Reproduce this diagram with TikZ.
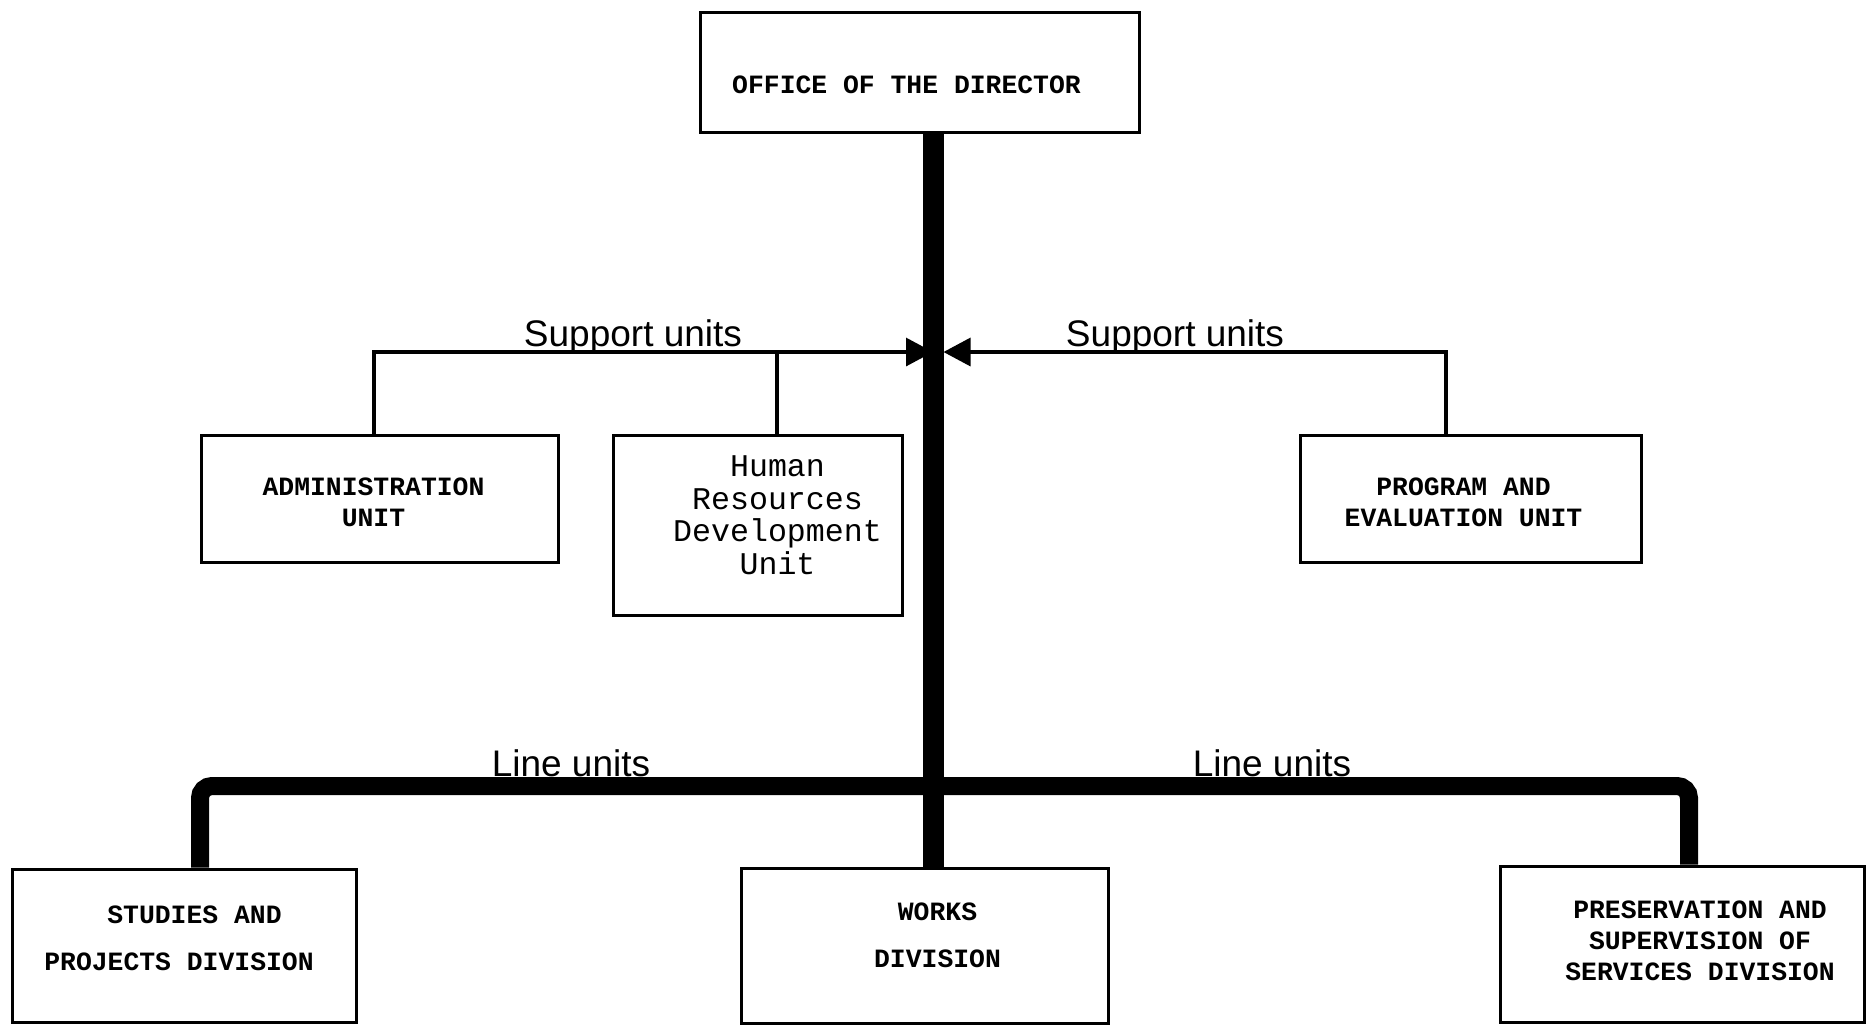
\documentclass[tikz,border=0pt]{standalone}
\usepackage{fontspec}
\setmainfont{Liberation Serif}
\newfontfamily\typefont{Liberation Mono}
\newfontfamily\handfont{Liberation Sans}
\usetikzlibrary{arrows.meta}
\newcommand{\boxtext}[3]{\raisebox{#2}[\height][\depth]{\hspace*{#1}\begin{tabular}{@{}c@{}}#3\end{tabular}\hspace*{-#1}}}
\tikzset{
    unitbox/.style = {draw = black,line width = 1.5pt,inner sep = 0pt,align = center},
    capstext/.style = {font = \typefont\bfseries\fontsize{13.2}{15.5}\selectfont},
    widetext/.style = {font = \typefont\bfseries\fontsize{13.2}{23.5}\selectfont},
    support/.style = {draw = black,line width = 1.6pt},
    supporttip/.style = {support,-{Triangle[length = 13.5pt,width = 14pt]}},
    lineunit/.style = {draw = black,line width = 9pt,rounded corners = 6pt},
    trunk/.style = {draw = black,line width = 10.5pt},
    hand/.style = {font = \handfont\fontsize{18.5}{20}\selectfont,anchor = base}
}
\begin{document}
\begin{tikzpicture}[x = 0.5pt,y = -0.5pt]
        \useasboundingbox (0,0) rectangle (1874,1025);
        \node [unitbox,capstext,minimum width = 219.5pt,minimum height = 60pt] (director) at (919.5,72) {\boxtext{-6.5pt}{-7.7pt}{OFFICE OF THE DIRECTOR}};
        \node [unitbox,capstext,minimum width = 178.5pt,minimum height = 63.5pt] (admin) at (379.5,498.5) {\boxtext{-3pt}{-3pt}{ADMINISTRATION\\UNIT}};
        \node [unitbox,font = \typefont\fontsize{15.8}{16.3}\selectfont,minimum width = 144.5pt,minimum height = 90pt] (hrd) at (757.5,525) {\boxtext{10pt}{3pt}{Human\\Resources\\Development\\Unit}};
        \node [unitbox,capstext,minimum width = 170.5pt,minimum height = 63.5pt] (program) at (1470.5,498.5) {\boxtext{-3.5pt}{-3pt}{PROGRAM AND\\EVALUATION UNIT}};
        \node [unitbox,widetext,minimum width = 172pt,minimum height = 76.5pt] (studies) at (184,945.5) {\boxtext{-2.5pt}{4pt}{\hspace*{15.5pt}STUDIES AND\\PROJECTS DIVISION}};
        \node [unitbox,widetext,minimum width = 183.5pt,minimum height = 77.5pt] (works) at (924.5,946) {\boxtext{6.5pt}{5.5pt}{WORKS\\DIVISION}};
        \node [unitbox,capstext,minimum width = 182pt,minimum height = 78pt] (preserv) at (1682,944) {\boxtext{9pt}{0.5pt}{PRESERVATION AND\\SUPERVISION OF\\SERVICES DIVISION}};
        \coordinate (sup) at (933,352);
        \coordinate (lin) at (933,786);
        \draw [supporttip] ([xshift = -2.75pt]admin.north) |- (sup);
        \draw [support] ([xshift = 9.75pt]hrd.north) -- ([xshift = 9.75pt]hrd.north |- sup);
        \draw [supporttip] ([xshift = -12.25pt]program.north) |- ([xshift = 5.25pt]sup);
        \draw [lineunit] ([xshift = 8pt]studies.north) |- (lin) -| ([xshift = 3.5pt]preserv.north);
        \draw [trunk] (director.south -| sup) -- (works.north -| sup);
        \node [hand] (supleft) at (633,346) {Support units};
        \node [hand] (supright) at (1175,346) {Support units};
        \node [hand] (lineleft) at (571,776) {Line units};
        \node [hand] (lineright) at (1272,776) {Line units};
    \end{tikzpicture}
\end{document}
